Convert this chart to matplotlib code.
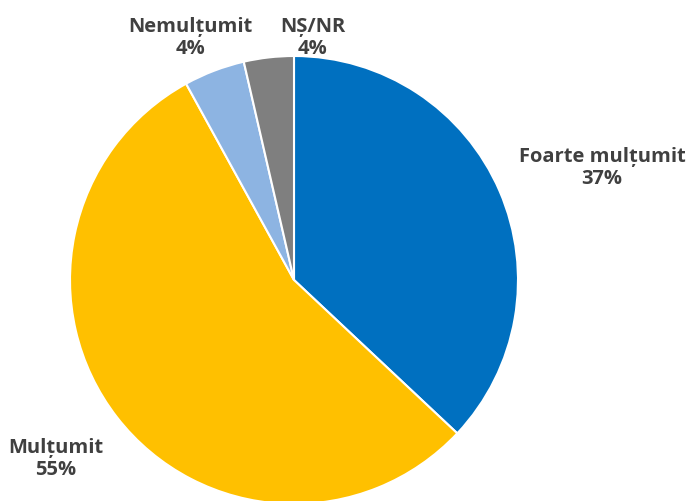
import matplotlib.pyplot as plt

plt.rcParams['font.family'] = ['Open Sans', 'DejaVu Sans']

labels = ['Foarte mulțumit', 'Mulțumit', 'Nemulțumit', 'NȘ/NR']
values = [37.0, 55.0, 4.4, 3.6]
pct_text = ['37%', '55%', '4%', '4%']
colors = ['#0070C0', '#FFC000', '#8DB4E2', '#7F7F7F']

# label centres in pixels (x, y from top)
label_pos = [(602, 168), (56, 459), (190, 38), (313, 38)]

W, H = 690, 502
cx, cy, r = 294, 281, 224

fig = plt.figure(figsize=(W / 100, H / 100), dpi=100)
ax = fig.add_axes([0, 0, 1, 1])
ax.pie(values, colors=colors, startangle=90, counterclock=False,
       radius=1, wedgeprops=dict(edgecolor='white', linewidth=1.5))
ax.set_xlim(-cx / r, (W - cx) / r)
ax.set_ylim(-(H - cy) / r, cy / r)
ax.set_aspect('equal')
ax.axis('off')

for lab, p, (px, py) in zip(labels, pct_text, label_pos):
    fig.text(px / W, 1 - py / H, lab + '\n' + p, ha='center', va='center',
             fontsize=14.5, fontweight='bold', color='#404040', linespacing=1.1)

fig.savefig('out.png', dpi=100)
